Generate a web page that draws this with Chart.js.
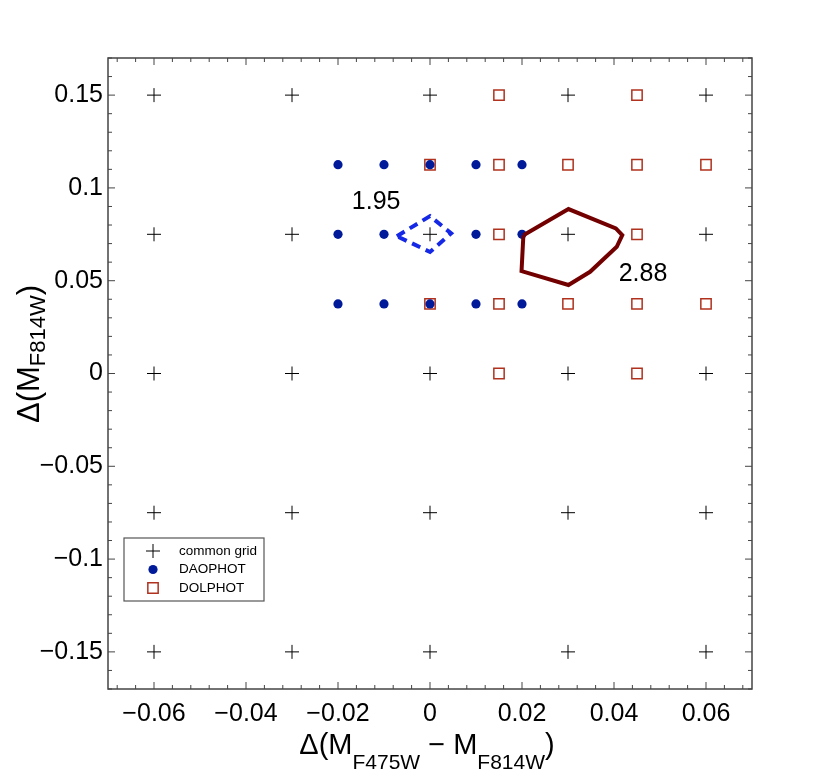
<!DOCTYPE html>
<html>
<head>
<meta charset="utf-8">
<script src="https://cdn.jsdelivr.net/npm/chart.js@4.4.0/dist/chart.umd.min.js"></script>
<style>
  body { margin: 0; background: #fff; }
  #wrap { width: 831px; height: 775px; }
</style>
</head>
<body>
<div id="wrap"><canvas id="myChart"></canvas></div>
<script>
const FONT = '"Liberation Sans", Arial, Helvetica, sans-serif';

const xTicks = [-0.06, -0.04, -0.02, 0, 0.02, 0.04, 0.06];
const xTickLabels = ['−0.06', '−0.04', '−0.02', '0', '0.02', '0.04', '0.06'];
const yTicks = [-0.15, -0.1, -0.05, 0, 0.05, 0.1, 0.15];
const yTickLabels = ['−0.15', '−0.1', '−0.05', '0', '0.05', '0.1', '0.15'];

// pontos [x, y]
const commonGrid = [
    [-0.06, -0.15], [-0.06, -0.075], [-0.06, 0], [-0.06, 0.075], [-0.06, 0.15],
    [-0.03, -0.15], [-0.03, -0.075], [-0.03, 0], [-0.03, 0.075], [-0.03, 0.15],
    [0, -0.15], [0, -0.075], [0, 0], [0, 0.075], [0, 0.15],
    [0.03, -0.15], [0.03, -0.075], [0.03, 0], [0.03, 0.075], [0.03, 0.15],
    [0.06, -0.15], [0.06, -0.075], [0.06, 0], [0.06, 0.075], [0.06, 0.15]
];
const daophot = [
    [-0.02, 0.0375], [-0.02, 0.075], [-0.02, 0.1125],
    [-0.01, 0.0375], [-0.01, 0.075], [-0.01, 0.1125],
    [0, 0.0375], [0, 0.1125],
    [0.01, 0.0375], [0.01, 0.075], [0.01, 0.1125],
    [0.02, 0.0375], [0.02, 0.075], [0.02, 0.1125]
];
const dolphot = [
    [0, 0.0375], [0, 0.1125],
    [0.015, 0], [0.015, 0.0375], [0.015, 0.075], [0.015, 0.1125], [0.015, 0.15],
    [0.03, 0.0375], [0.03, 0.1125],
    [0.045, 0], [0.045, 0.0375], [0.045, 0.075], [0.045, 0.1125], [0.045, 0.15],
    [0.06, 0.0375], [0.06, 0.1125]
];
const contourDao = [
    [-0.0072, 0.074], [0, 0.0848], [0.0046, 0.0755], [0, 0.0655], [-0.0072, 0.074]
];
const contourDol = [
    [0.0203, 0.0745], [0.0301, 0.0886], [0.0404, 0.0782], [0.0418, 0.0746],
    [0.0406, 0.0683], [0.0348, 0.0548], [0.0301, 0.0477], [0.0199, 0.0552],
    [0.0203, 0.0745]
];
const contourTexts = ['1.95', '2.88'];
const contourTextX = [-0.0117, 0.0463];
const contourTextY = [0.0923, 0.0536];

const toXY = arr => arr.map(p => ({ x: p[0], y: p[1] }));

// moldura com ticks para dentro nos 4 lados
const molduraPlugin = {
    id: 'moldura',
    afterDatasetsDraw(chart) {
        const { ctx, chartArea: a, scales: { x, y } } = chart;
        ctx.save();
        ctx.strokeStyle = '#444';
        ctx.lineWidth = 1;
        ctx.beginPath();
        for (let i = -17; i <= 17; i++) {
            const px = x.getPixelForValue(i * 0.004);
            const len = i % 5 === 0 ? 7 : 4;
            ctx.moveTo(px, a.bottom); ctx.lineTo(px, a.bottom - len);
            ctx.moveTo(px, a.top); ctx.lineTo(px, a.top + len);
        }
        for (let i = -17; i <= 17; i++) {
            const py = y.getPixelForValue(i * 0.01);
            const len = i % 5 === 0 ? 7 : 4;
            ctx.moveTo(a.left, py); ctx.lineTo(a.left + len, py);
            ctx.moveTo(a.right, py); ctx.lineTo(a.right - len, py);
        }
        ctx.stroke();
        ctx.lineWidth = 1.5;
        ctx.strokeRect(a.left, a.top, a.right - a.left, a.bottom - a.top);
        ctx.restore();
    }
};

// texto com subscritos
function desenharPartes(ctx, partes, cx, baseY) {
    let total = 0;
    partes.forEach(p => {
        ctx.font = `${p.size}px ${FONT}`;
        p.w = ctx.measureText(p.t).width;
        total += p.w;
    });
    let px = cx - total / 2;
    partes.forEach(p => {
        ctx.font = `${p.size}px ${FONT}`;
        ctx.fillText(p.t, px, baseY + p.dy);
        px += p.w;
    });
}

const textosPlugin = {
    id: 'textos',
    afterDraw(chart) {
        const { ctx, chartArea: a, scales: { x, y } } = chart;
        ctx.save();
        ctx.fillStyle = '#000';
        ctx.textBaseline = 'alphabetic';
        ctx.textAlign = 'left';

        // títulos dos eixos
        desenharPartes(ctx, [
            { t: 'Δ(M', size: 29, dy: 0 },
            { t: 'F475W', size: 21, dy: 15 },
            { t: ' − M', size: 29, dy: 0 },
            { t: 'F814W', size: 21, dy: 15 },
            { t: ')', size: 29, dy: 0 }
        ], 427, 754);

        ctx.save();
        ctx.translate(39, 354);
        ctx.rotate(-Math.PI / 2);
        desenharPartes(ctx, [
            { t: 'Δ(M', size: 31, dy: 0 },
            { t: 'F814W', size: 22, dy: 6 },
            { t: ')', size: 31, dy: 0 }
        ], 0, 0);
        ctx.restore();

        // rótulos dos contornos
        ctx.font = `25px ${FONT}`;
        ctx.textAlign = 'center';
        ctx.textBaseline = 'middle';
        contourTexts.forEach((t, i) => {
            ctx.fillText(t, x.getPixelForValue(contourTextX[i]), y.getPixelForValue(contourTextY[i]));
        });

        // legenda
        const lx = a.left + 16, ly = a.bottom - 151;
        ctx.strokeStyle = '#555';
        ctx.lineWidth = 1.2;
        ctx.strokeRect(lx, ly, 140, 63);
        const itens = chart.data.datasets.filter(d => d.noLegenda !== true);
        ctx.font = `13.5px ${FONT}`;
        ctx.textAlign = 'left';
        itens.forEach((d, i) => {
            const cy = ly + 13 + i * 18.5;
            ctx.save();
            ctx.fillStyle = d.backgroundColor || 'transparent';
            ctx.strokeStyle = d.borderColor || 'transparent';
            ctx.lineWidth = d.borderWidth || 0;
            Chart.helpers.drawPoint(ctx, {
                pointStyle: d.pointStyle, radius: d.pointRadius, rotation: 0, borderWidth: d.borderWidth
            }, lx + 29, cy);
            ctx.restore();
            ctx.fillStyle = '#000';
            ctx.fillText(d.label, lx + 55, cy);
        });
        ctx.restore();
    }
};

const ctx = document.getElementById('myChart').getContext('2d');

new Chart(ctx, {
    type: 'scatter',
    data: {
        datasets: [
            {
                label: 'common grid', data: toXY(commonGrid),
                pointStyle: 'cross', pointRadius: 7, borderColor: '#000', backgroundColor: '#000',
                borderWidth: 1, order: 0
            },
            {
                label: 'DAOPHOT', data: toXY(daophot),
                pointStyle: 'circle', pointRadius: 4.6, backgroundColor: '#001a9a', borderColor: '#001a9a',
                borderWidth: 0, order: 2
            },
            {
                label: 'DOLPHOT', data: toXY(dolphot),
                pointStyle: 'rect', pointRadius: 7.3, backgroundColor: 'rgba(0,0,0,0)', borderColor: '#b0321e',
                borderWidth: 1.5, order: 3
            },
            {
                label: '1.95', data: toXY(contourDao), noLegenda: true, showLine: true,
                borderColor: '#1428e6', borderWidth: 4, borderDash: [9, 6], pointRadius: 0, order: 1
            },
            {
                label: '2.88', data: toXY(contourDol), noLegenda: true, showLine: true,
                borderColor: '#730000', borderWidth: 4, pointRadius: 0, order: 1
            }
        ]
    },
    options: {
        responsive: true,
        maintainAspectRatio: false,
        animation: false,
        events: [],
        layout: { padding: { top: 58, right: 79, left: 0, bottom: 0 } },
        plugins: { legend: { display: false }, tooltip: { enabled: false } },
        scales: {
            x: {
                type: 'linear', min: -0.07, max: 0.07,
                grid: { display: false, drawTicks: false },
                border: { display: false },
                afterBuildTicks: s => { s.ticks = xTicks.map(v => ({ value: v })); },
                afterFit: s => { s.height = 86; },
                ticks: {
                    callback: v => xTickLabels[xTicks.indexOf(v)],
                    font: { family: FONT, size: 25 }, color: '#000',
                    padding: 10, maxRotation: 0, autoSkip: false
                }
            },
            y: {
                type: 'linear', min: -0.17, max: 0.17,
                grid: { display: false, drawTicks: false },
                border: { display: false },
                afterBuildTicks: s => { s.ticks = yTicks.map(v => ({ value: v })); },
                afterFit: s => { s.width = 108; },
                ticks: {
                    callback: v => yTickLabels[yTicks.indexOf(v)],
                    font: { family: FONT, size: 25 }, color: '#000',
                    padding: 5, autoSkip: false
                }
            }
        }
    },
    plugins: [molduraPlugin, textosPlugin]
});
</script>
</body>
</html>
